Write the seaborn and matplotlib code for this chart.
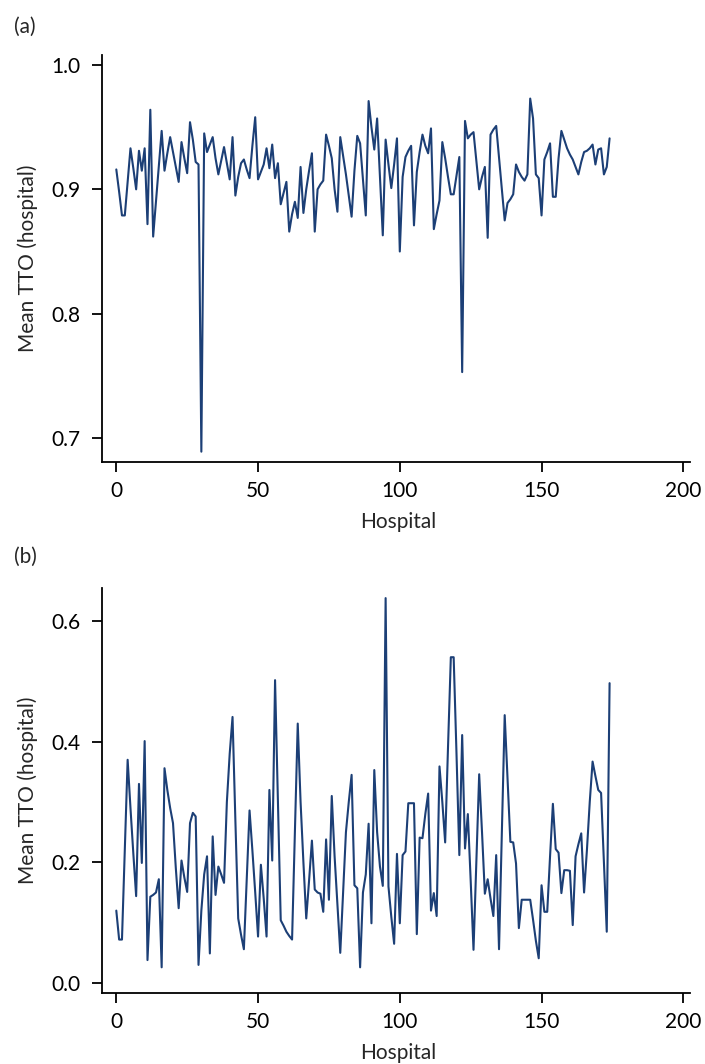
import numpy as np
import pandas as pd
import matplotlib
matplotlib.use("Agg")
import matplotlib.pyplot as plt
import seaborn as sns

# Mean time trade-off per hospital, panel (a)
tto_a = [
    0.916, 0.898, 0.879, 0.879, 0.906, 0.933, 0.917, 0.900, 0.931, 0.915,
    0.933, 0.872, 0.964, 0.862, 0.890, 0.918, 0.947, 0.915, 0.929, 0.942,
    0.930, 0.918, 0.906, 0.938, 0.925, 0.913, 0.954, 0.940, 0.922, 0.920,
    0.689, 0.945, 0.930, 0.936, 0.942, 0.925, 0.912, 0.923, 0.934, 0.921,
    0.908, 0.942, 0.895, 0.910, 0.921, 0.924, 0.916, 0.909, 0.935, 0.958,
    0.908, 0.914, 0.920, 0.933, 0.917, 0.936, 0.909, 0.921, 0.888, 0.897,
    0.906, 0.866, 0.880, 0.890, 0.877, 0.918, 0.881, 0.900, 0.915, 0.929,
    0.866, 0.900, 0.904, 0.907, 0.944, 0.935, 0.925, 0.900, 0.882, 0.942,
    0.927, 0.912, 0.895, 0.878, 0.915, 0.943, 0.937, 0.908, 0.879, 0.971,
    0.950, 0.932, 0.957, 0.910, 0.863, 0.940, 0.920, 0.901, 0.920, 0.941,
    0.850, 0.910, 0.926, 0.931, 0.935, 0.871, 0.914, 0.930, 0.944, 0.935,
    0.929, 0.949, 0.868, 0.880, 0.891, 0.938, 0.925, 0.910, 0.896, 0.896,
    0.911, 0.926, 0.753, 0.955, 0.941, 0.944, 0.946, 0.923, 0.900, 0.910,
    0.918, 0.861, 0.944, 0.948, 0.951, 0.925, 0.900, 0.875, 0.889, 0.892,
    0.896, 0.920, 0.914, 0.910, 0.907, 0.912, 0.973, 0.957, 0.912, 0.909,
    0.879, 0.924, 0.930, 0.937, 0.894, 0.894, 0.925, 0.947, 0.940, 0.933,
    0.928, 0.924, 0.918, 0.912, 0.922, 0.930, 0.931, 0.933, 0.936, 0.920,
    0.932, 0.933, 0.912, 0.918, 0.941,
]

# Mean time trade-off per hospital, panel (b)
tto_b = [
    0.120, 0.072, 0.072, 0.220, 0.370, 0.290, 0.215, 0.144, 0.330, 0.199,
    0.401, 0.038, 0.143, 0.146, 0.150, 0.172, 0.026, 0.356, 0.320, 0.290,
    0.265, 0.190, 0.124, 0.203, 0.175, 0.151, 0.265, 0.282, 0.276, 0.030,
    0.120, 0.180, 0.210, 0.049, 0.243, 0.146, 0.193, 0.180, 0.166, 0.300,
    0.380, 0.441, 0.270, 0.107, 0.080, 0.056, 0.170, 0.286, 0.220, 0.150,
    0.077, 0.196, 0.140, 0.077, 0.320, 0.203, 0.502, 0.300, 0.104, 0.095,
    0.085, 0.078, 0.072, 0.250, 0.430, 0.300, 0.200, 0.107, 0.170, 0.236,
    0.155, 0.150, 0.148, 0.118, 0.238, 0.138, 0.310, 0.210, 0.130, 0.050,
    0.150, 0.250, 0.300, 0.345, 0.162, 0.157, 0.026, 0.150, 0.180, 0.264,
    0.099, 0.353, 0.250, 0.193, 0.161, 0.638, 0.160, 0.110, 0.065, 0.214,
    0.099, 0.212, 0.218, 0.298, 0.298, 0.298, 0.081, 0.241, 0.240, 0.280,
    0.314, 0.120, 0.149, 0.111, 0.359, 0.300, 0.233, 0.390, 0.540, 0.540,
    0.380, 0.212, 0.411, 0.223, 0.280, 0.170, 0.055, 0.200, 0.346, 0.250,
    0.148, 0.172, 0.140, 0.111, 0.212, 0.056, 0.250, 0.444, 0.340, 0.234,
    0.233, 0.198, 0.091, 0.138, 0.138, 0.138, 0.138, 0.105, 0.070, 0.041,
    0.162, 0.118, 0.118, 0.210, 0.297, 0.222, 0.216, 0.149, 0.187, 0.187,
    0.186, 0.096, 0.210, 0.230, 0.248, 0.150, 0.220, 0.300, 0.367, 0.343,
    0.320, 0.315, 0.200, 0.085, 0.497,
]

hospital_a = np.arange(len(tto_a))
hospital_b = np.arange(len(tto_b))

panel_labels = ["(a)", "(b)"]
x_ticks = [0, 50, 100, 150, 200]
y_ticks_a = [0.7, 0.8, 0.9, 1.0]
y_ticks_b = [0.0, 0.2, 0.4, 0.6]

line_color = "#1c3f76"
FS = 15

sns.set_style("ticks")
plt.rcParams["font.family"] = ["Lato", "DejaVu Sans"]
plt.rcParams["axes.linewidth"] = 1.3
plt.rcParams["xtick.major.width"] = 1.3
plt.rcParams["ytick.major.width"] = 1.3
plt.rcParams["xtick.major.size"] = 7
plt.rcParams["ytick.major.size"] = 7

W, H = 705, 1064
fig = plt.figure(figsize=(W / 100, H / 100), dpi=100)


def px_axes(left, top, right, bottom):
    return fig.add_axes([left / W, 1 - bottom / H, (right - left) / W, (bottom - top) / H])


AX_L, AX_R = 101.5, 690
ax_a = px_axes(AX_L, 55, AX_R, 462)
ax_b = px_axes(AX_L, 588, AX_R, 993)

df_a = pd.DataFrame({"Hospital": hospital_a, "Mean TTO (hospital)": tto_a})
df_b = pd.DataFrame({"Hospital": hospital_b, "Mean TTO (hospital)": tto_b})

sns.lineplot(data=df_a, x="Hospital", y="Mean TTO (hospital)", ax=ax_a,
             color=line_color, linewidth=1.5)
sns.lineplot(data=df_b, x="Hospital", y="Mean TTO (hospital)", ax=ax_b,
             color=line_color, linewidth=1.5)

# x: 0 at px 116.3, 200 at px 683.3
X0_PX, X200_PX = 116.3, 683.3
xscale = (X200_PX - X0_PX) / 200
xlim = ((AX_L - X0_PX) / xscale, (AX_R - X0_PX) / xscale)

panels = [
    (ax_a, y_ticks_a, (0.7 - (462 - 438) / 1243, 1.0 + (65 - 55) / 1243), 55, 462, 522),
    (ax_b, y_ticks_b, (-(993 - 983) / 603.3, (983 - 588) / 603.3), 588, 993, 1053),
]
for ax, yt, ylim, top, bottom, xlab_y in panels:
    ax.set_xlim(*xlim)
    ax.set_ylim(*ylim)
    ax.set_xticks(x_ticks)
    ax.set_yticks(yt)
    ax.set_yticklabels([f"{v:.1f}" for v in yt])
    ax.tick_params(axis="x", labelsize=FS, colors="black", pad=7)
    ax.tick_params(axis="y", labelsize=FS, colors="black", pad=8)
    ax.set_xlabel("Hospital", fontsize=FS)
    ax.set_ylabel("Mean TTO (hospital)", fontsize=FS)
    hgt = bottom - top
    ax.xaxis.set_label_coords((398 - AX_L) / (AX_R - AX_L), (bottom - xlab_y) / hgt)
    ax.xaxis.label.set_va("center")
    ax.yaxis.set_label_coords((28 - AX_L) / (AX_R - AX_L), 0.5)
    ax.yaxis.label.set_va("center")
    sns.despine(ax=ax)
    for s in ("left", "bottom"):
        ax.spines[s].set_color("black")

fig.text(14 / W, 1 - 26.5 / H, panel_labels[0], fontsize=FS, va="center", ha="left")
fig.text(14 / W, 1 - 557 / H, panel_labels[1], fontsize=FS, va="center", ha="left")

fig.savefig("out.png", dpi=100)
